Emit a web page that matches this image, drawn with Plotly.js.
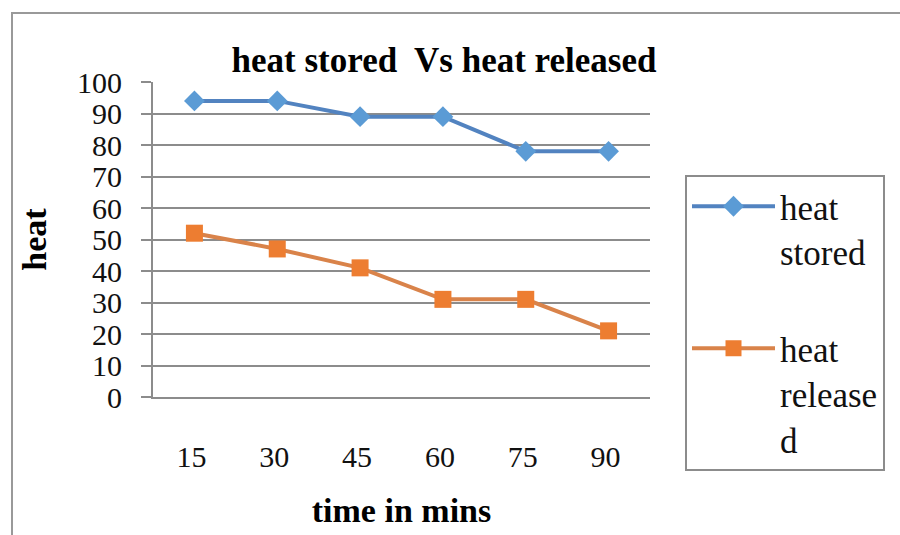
<!DOCTYPE html>
<html>
<head>
<meta charset="utf-8">
<script src="https://cdn.plot.ly/plotly-3.0.1.min.js"></script>
<style>html,body{margin:0;padding:0;background:#fff;}#chart{width:900px;height:535px;}</style>
</head>
<body>
<div id="chart"></div>
<script>
const categories = ["15", "30", "45", "60", "75", "90"];
const heatStored = [94, 94, 89, 89, 78, 78];
const heatReleased = [52, 47, 41, 31, 31, 21];
const seriesNames = ["heat<br>stored", "heat<br>release<br>d"];

const W = 900, H = 535;
const M = {l: 153, r: 250, t: 82, b: 138};
const pw = W - M.l - M.r, ph = H - M.t - M.b;
const px = x => (x - M.l) / pw;
const py = y => (H - M.b - y) / ph;

const serif = "Liberation Serif, Times New Roman, serif";
const grey = "#8c8c8c";

const traces = [
  {
    x: categories, y: heatStored, name: seriesNames[0], legendgroup: "a", type: "scatter", mode: "lines+markers",
    line: {color: "#5283c0", width: 4},
    marker: {symbol: "diamond", size: 16, color: "#5b9bd5"}
  },
  {
    x: categories, y: heatReleased, name: seriesNames[1], legendgroup: "b", type: "scatter", mode: "lines+markers",
    line: {color: "#d9834a", width: 4},
    marker: {symbol: "square", size: 17, color: "#ed7d31"}
  }
];

const layout = {
  width: W, height: H,
  margin: M,
  paper_bgcolor: "#fff", plot_bgcolor: "#fff",
  showlegend: true,
  title: {
    text: "<b>heat stored  Vs heat released</b>",
    font: {family: serif, size: 35, color: "#000"},
    xref: "container", x: 444 / W, xanchor: "center",
    yref: "container", y: 1 - 60 / H, yanchor: "middle"
  },
  xaxis: {
    type: "category",
    range: [-0.5, 5.5],
    showgrid: false, zeroline: false,
    showline: true, linecolor: grey, linewidth: 2,
    ticks: "", ticklabelstandoff: 32, ticklabelshift: -3,
    tickfont: {family: serif, size: 30, color: "#111"},
    title: {text: "<b>time in mins</b>", font: {family: serif, size: 34, color: "#000"}, standoff: 26}
  },
  yaxis: {
    range: [0, 100], dtick: 10, tick0: 0,
    showgrid: true, gridcolor: grey, gridwidth: 2,
    zeroline: false,
    showline: true, linecolor: grey, linewidth: 2,
    ticks: "outside", ticklen: 10, tickcolor: grey, tickwidth: 2,
    ticklabelstandoff: 13,
    tickfont: {family: serif, size: 30, color: "#111"},
    title: {text: "<b>heat</b>", font: {family: serif, size: 34, color: "#000"}, standoff: 20}
  },
  legend: {
    x: px(685), xanchor: "left",
    y: py(175), yanchor: "top",
    bgcolor: "#fff", bordercolor: grey, borderwidth: 2,
    font: {family: serif, size: 35, color: "#111"},
    valign: "top", itemwidth: 83, tracegroupgap: 48
  },
  shapes: [
    {type: "rect", xref: "paper", yref: "paper",
     x0: px(12), x1: px(912), y0: py(545), y1: py(13),
     line: {color: "#999", width: 2}, fillcolor: "rgba(0,0,0,0)", layer: "below"}
  ]
};

Plotly.newPlot("chart", traces, layout, {staticPlot: true, displayModeBar: false});
</script>
</body>
</html>
